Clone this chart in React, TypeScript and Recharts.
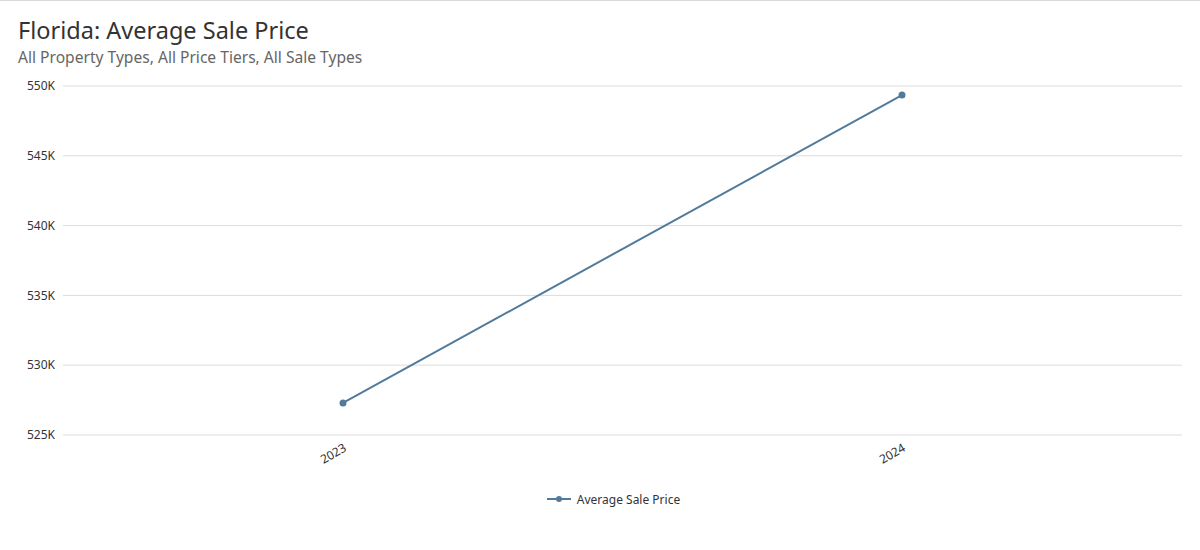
import React from "react";
import {
  LineChart,
  Line,
  XAxis,
  YAxis,
  CartesianGrid,
  Legend,
} from "recharts";

const years = ["2023", "2024"];
const avgSalePrice = [527300, 549350];
const yTicks = [525000, 530000, 535000, 540000, 545000, 550000];

const data = years.map((year, i) => ({ year, price: avgSalePrice[i] }));

const FONT = "'Noto Sans', 'Open Sans', sans-serif";
const LINE_COLOR = "#527a9a";

function LegendContent() {
  return (
    <div
      style={{
        height: 18,
        display: "flex",
        justifyContent: "center",
        alignItems: "center",
        fontSize: 12,
        fontFamily: FONT,
        color: "#333",
        paddingLeft: 63,
        paddingRight: 18,
      }}
    >
      <svg width={24} height={10} style={{ marginRight: 6 }}>
        <line x1={0} y1={5} x2={24} y2={5} stroke={LINE_COLOR} strokeWidth={2} />
        <circle cx={12} cy={5} r={3} fill={LINE_COLOR} />
      </svg>
      <span>Average Sale Price</span>
    </div>
  );
}

export default function App() {
  return (
    <div
      style={{
        position: "fixed",
        top: 0,
        left: 0,
        width: 1200,
        height: 550,
        background: "#fff",
        borderTop: "1px solid #d9d9d9",
        boxSizing: "border-box",
        fontFamily: FONT,
      }}
    >
      <div
        style={{
          position: "absolute",
          left: 18,
          top: 16,
          fontSize: 23.5,
          color: "#333",
          lineHeight: "26px",
        }}
      >
        Florida: Average Sale Price
      </div>
      <div
        style={{
          position: "absolute",
          left: 18,
          top: 47,
          fontSize: 15.6,
          color: "#666",
          lineHeight: "19px",
        }}
      >
        All Property Types, All Price Tiers, All Sale Types
      </div>
      <div style={{ position: "absolute", top: -1, left: 0 }}>
        <LineChart
          width={1200}
          height={550}
          data={data}
          margin={{ top: 86, right: 18, left: 0, bottom: 37 }}
        >
          <CartesianGrid vertical={false} stroke="#dcdcdc" />
          <XAxis
            dataKey="year"
            axisLine={false}
            tickLine={false}
            height={60}
            angle={-30}
            textAnchor="end"
            padding={{ left: 280, right: 280 }}
            tick={{ fill: "#333", fontSize: 12, fontFamily: FONT }}
            interval={0}
          />
          <YAxis
            width={63}
            domain={[525000, 550000]}
            ticks={yTicks}
            axisLine={false}
            tickLine={false}
            tickFormatter={(v: number) => `${v / 1000}K`}
            tick={{ fill: "#333", fontSize: 12, fontFamily: FONT }}
          />
          <Legend
            verticalAlign="bottom"
            content={() => <LegendContent />}
            wrapperStyle={{ bottom: 42 }}
          />
          <Line
            type="linear"
            dataKey="price"
            name="Average Sale Price"
            stroke={LINE_COLOR}
            strokeWidth={2}
            dot={{ fill: LINE_COLOR, stroke: LINE_COLOR, r: 2.5 }}
            isAnimationActive={false}
          />
        </LineChart>
      </div>
    </div>
  );
}
